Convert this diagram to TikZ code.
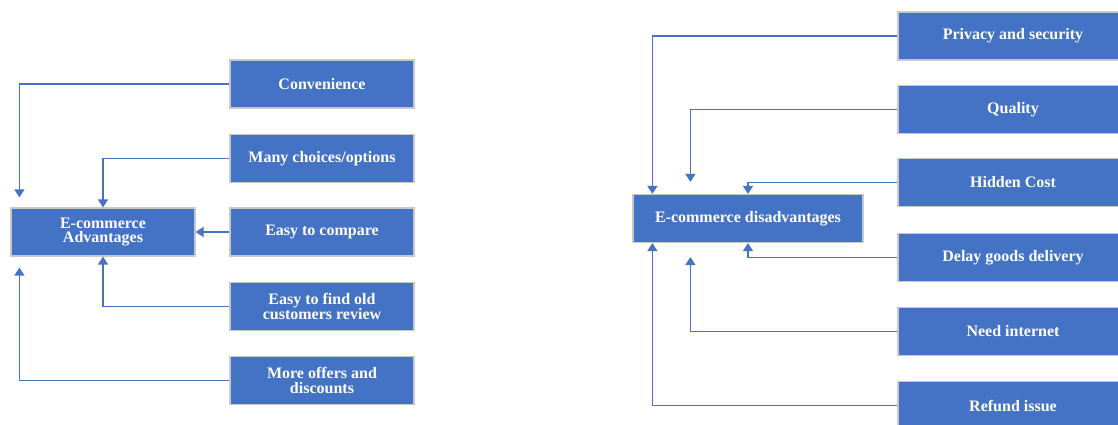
\documentclass[tikz,border=0pt]{standalone}
\usepackage{fontspec}
\setmainfont{Liberation Serif}
\usetikzlibrary{arrows.meta}
\definecolor{boxblue}{HTML}{4472C4}
\definecolor{boxrim}{HTML}{C8C8C8}
\tikzset{
  item/.style={rectangle, fill=boxblue, draw=boxrim, line width=1.2pt, text=white,
    font=\fontsize{16}{14.5}\selectfont\bfseries, align=center,
    minimum width=184pt, minimum height=48pt, inner sep=2pt},
  wide/.style={item, minimum width=230pt},
  arr/.style={draw=boxblue, line width=1.3pt, -{Triangle[width=10pt,length=8pt]}}
}
\begin{document}
\begin{tikzpicture}[x=1pt, y=-1pt]
  \clip (0,0) rectangle (1118,425);
  \fill[white] (0,0) rectangle (1118,425);

  % advantages
  \node[item] (adv) at (103,232) {E-commerce\\Advantages};
  \node[item] (conv) at (322,84) {Convenience};
  \node[item] (many) at (322,158.5) {Many choices/options};
  \node[item] (cmp) at (322,232) {Easy to compare};
  \node[item] (find) at (322,306.5) {Easy to find old\\customers review};
  \node[item] (offers) at (322,380.5) {More offers and\\discounts};

  \draw[arr] (conv.west) -| ([xshift=9pt, yshift=10pt]adv.north west);
  \draw[arr] (many.west) -| (adv.north);
  \draw[arr] (cmp.west) -- (adv.east);
  \draw[arr] (find.west) -| (adv.south);
  \draw[arr] (offers.west) -| ([xshift=9pt, yshift=-11pt]adv.south west);

  % disadvantages
  \node[wide] (dis) at (748,218.5) {E-commerce disadvantages};
  \node[wide] (priv) at (1013,36) {Privacy and security};
  \node[wide] (qual) at (1013,109.5) {Quality};
  \node[wide] (hid) at (1013,182.5) {Hidden Cost};
  \node[wide] (delay) at (1013,257.5) {Delay goods delivery};
  \node[wide] (need) at (1013,331.5) {Need internet};
  \node[wide] (refund) at (1013,405.5) {Refund issue};

  \draw[arr] (priv.west) -| ([xshift=20pt]dis.north west);
  \draw[arr] (qual.west) -| ([xshift=58pt, yshift=12pt]dis.north west);
  \draw[arr] (hid.west) -| (dis.north);
  \draw[arr] (delay.west) -| (dis.south);
  \draw[arr] (need.west) -| ([xshift=58pt, yshift=-14pt]dis.south west);
  \draw[arr] (refund.west) -| ([xshift=20pt]dis.south west);
\end{tikzpicture}
\end{document}
